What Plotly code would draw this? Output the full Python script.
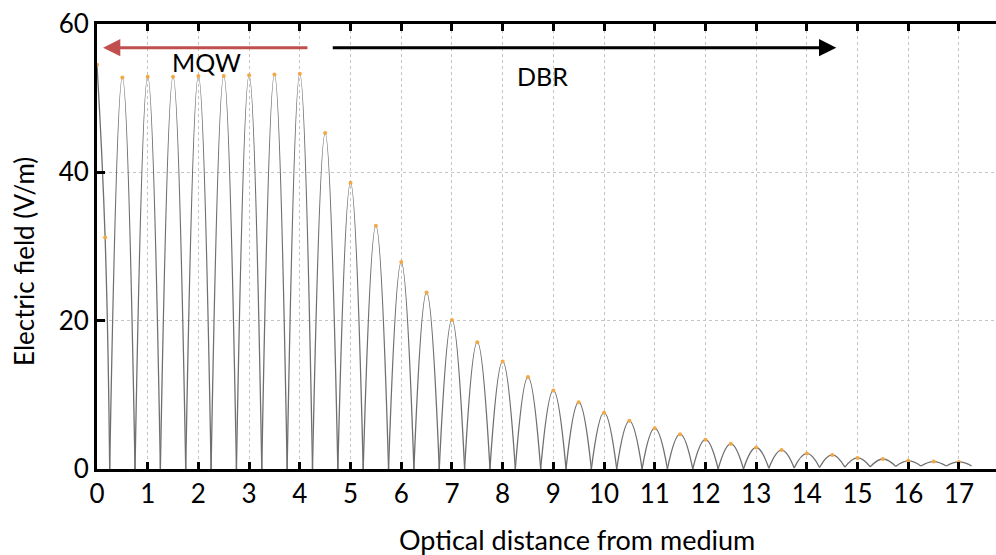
import plotly.graph_objects as go

# ---- data ----
peak_x = [0, 0.5, 1, 1.5, 2, 2.5, 3, 3.5, 4, 4.5, 5, 5.5, 6, 6.5, 7, 7.5, 8, 8.5,
          9, 9.5, 10, 10.5, 11, 11.5, 12, 12.5, 13, 13.5, 14, 14.5, 15, 15.5, 16, 16.5, 17]
peak_y = [54.5, 52.8, 52.9, 52.9, 53.0, 53.0, 53.1, 53.2, 53.3, 45.3, 38.6, 32.8, 27.9,
          23.8, 20.1, 17.1, 14.5, 12.4, 10.6, 9.0, 7.6, 6.5, 5.5, 4.7, 3.95, 3.4, 2.9,
          2.55, 2.1, 1.9, 1.5, 1.35, 1.1, 1.0, 0.95]
valley_x = [0.25, 0.75, 1.25, 1.75, 2.25, 2.75, 3.25, 3.75, 4.25, 4.75, 5.25, 5.75, 6.25,
            6.75, 7.25, 7.75, 8.25, 8.75, 9.25, 9.75, 10.25, 10.75, 11.25, 11.75, 12.25,
            12.75, 13.25, 13.75, 14.25, 14.75, 15.25, 15.75, 16.25, 16.75, 17.25]
valley_y = [0, 0, 0, 0, 0, 0, 0, 0, 0, 0, 0, 0, 0, 0, 0, 0, 0, 0, 0, 0, 0, 0, 0, 0, 0, 0,
            0.1, 0.15, 0.2, 0.25, 0.3, 0.35, 0.4, 0.4, 0.4]
flank_x = [0.16]
flank_y = [31.2]

x_ticks = list(range(0, 18))
y_ticks = [0, 20, 40, 60]

# ---- build the field curve: one arch per lobe ----
lx, ly = [], []
lx += [peak_x[0], flank_x[0], valley_x[0], None]
ly += [peak_y[0], flank_y[0], valley_y[0], None]
for k in range(1, len(peak_x)):
    lx += [valley_x[k - 1], peak_x[k], valley_x[k], None]
    ly += [valley_y[k - 1], peak_y[k], valley_y[k], None]

FONT = "Lato"

fig = go.Figure()
fig.add_trace(go.Scatter(
    x=lx, y=ly, mode="lines", connectgaps=False,
    line=dict(color="#6f6f6f", width=1.3, shape="spline", smoothing=1.3),
    hoverinfo="skip", showlegend=False))
fig.add_trace(go.Scatter(
    x=peak_x + flank_x, y=peak_y + flank_y, mode="markers",
    marker=dict(color="#f2a847", size=4), showlegend=False))

fig.update_layout(
    width=996, height=555,
    margin=dict(l=97, r=0, t=24, b=86, autoexpand=False),
    plot_bgcolor="white", paper_bgcolor="white",
    font=dict(family=FONT, size=26, color="black"),
    xaxis=dict(
        range=[0, 17.73], tickvals=x_ticks, ticktext=[str(v) for v in x_ticks],
        ticks="inside", ticklen=7, tickwidth=3, tickcolor="black",
        showline=True, linewidth=3, linecolor="black", mirror="ticks",
        showgrid=True, gridcolor="#c4c4c4", griddash="dot", gridwidth=1,
        zeroline=False, tickfont=dict(family=FONT, size=26), automargin=False,
        ticklabeloverflow="allow",
    ),
    yaxis=dict(
        range=[0, 60], tickvals=y_ticks,
        ticks="inside", ticklen=8, tickwidth=3, tickcolor="black",
        showline=True, linewidth=3, linecolor="black",
        showgrid=True, gridcolor="#c4c4c4", griddash="dot", gridwidth=1,
        zeroline=False, tickfont=dict(family=FONT, size=26), automargin=False,
        ticklabeloverflow="allow",
    ),
    annotations=[
        dict(text="Optical distance from medium", xref="paper", yref="paper",
             x=0.534, y=-0.158, xanchor="center", yanchor="middle",
             showarrow=False, font=dict(family=FONT, size=27)),
        dict(text="Electric field (V/m)", xref="paper", yref="paper",
             x=-0.082, y=0.466, xanchor="center", yanchor="middle", textangle=-90,
             showarrow=False, font=dict(family=FONT, size=26)),
        dict(text="MQW", xref="x", yref="y", x=2.15, y=54.9,
             showarrow=False, font=dict(family=FONT, size=25)),
        dict(text="DBR", xref="x", yref="y", x=8.78, y=53.0,
             showarrow=False, font=dict(family=FONT, size=25)),
        dict(text="", xref="x", yref="y", axref="x", ayref="y",
             x=0.12, y=56.8, ax=4.18, ay=56.8, showarrow=True,
             arrowhead=2, arrowsize=1.15, arrowwidth=3, arrowcolor="#c0504d", standoff=0),
        dict(text="", xref="x", yref="y", axref="x", ayref="y",
             x=14.58, y=56.8, ax=4.62, ay=56.8, showarrow=True,
             arrowhead=2, arrowsize=1.15, arrowwidth=3, arrowcolor="black", standoff=0),
    ],
)

fig.write_html(
    "out.html",
    config={"displayModeBar": False},
    post_script="document.body.style.margin='0';document.body.style.overflow='hidden';",
)
